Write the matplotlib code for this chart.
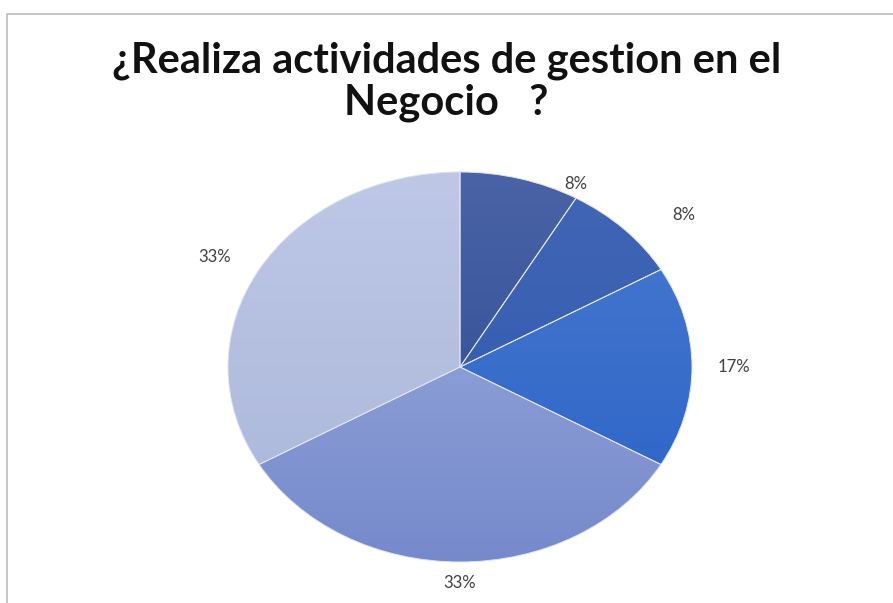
import numpy as np
import matplotlib
matplotlib.use("Agg")
import matplotlib.pyplot as plt
from matplotlib.colors import LinearSegmentedColormap
from matplotlib.lines import Line2D

title = "¿Realiza actividades de gestion en el\nNegocio   ?"
counts = [1, 1, 2, 4, 4]
# top / bottom shade of each wedge
top_colors = ["#4a63a6", "#4266b6", "#4a7ad0", "#9fb0e0", "#bec7e6"]
bottom_colors = ["#2a4992", "#2c58ad", "#2962c6", "#7689cb", "#a9b6da"]
# where each percent label sits: (angle in degrees, distance from centre)
label_spots = [(62, 1.06), (39, 1.24), (0, 1.18), (-90, 1.11), (152, 1.2)]

W, H = 893, 603
fig = plt.figure(figsize=(W / 100, H / 100), dpi=100)

# pie ellipse: centre (460, 367) px, radii 232 x 195 px
cx, cy, rx, ry = 460, 367, 232, 195
ax = fig.add_axes([(cx - rx) / W, (H - cy - ry) / H, 2 * rx / W, 2 * ry / H])

wedges, texts, autotexts = ax.pie(
    counts, startangle=90, counterclock=False, autopct="%1.0f%%",
    pctdistance=1.15, radius=1, center=(0, 0),
    wedgeprops=dict(edgecolor="#dfe4f2", linewidth=0.7),
    textprops=dict(fontsize=12, color="#404040", family="Lato"))
ax.set_aspect("auto")

grad = np.linspace(0, 1, 256).reshape(-1, 1)
for w, c_top, c_bot in zip(wedges, top_colors, bottom_colors):
    w.set_facecolor("none")
    cmap = LinearSegmentedColormap.from_list("g", [c_top, c_bot])
    im = ax.imshow(grad, cmap=cmap, extent=[-1, 1, -1, 1], origin="upper",
                   aspect="auto", interpolation="bicubic", zorder=0.5)
    im.set_clip_path(w)

for t, (ang, dist) in zip(autotexts, label_spots):
    a = np.deg2rad(ang)
    t.set_position((dist * np.cos(a), dist * np.sin(a)))
    t.set_ha("center")
    t.set_va("center")

ax.set_xlim(-1, 1)
ax.set_ylim(-1, 1)
ax.axis("off")

fig.text(0.5, 1 - 82 / H, title, ha="center", va="center", fontsize=30,
         fontweight="bold", family="Lato", linespacing=1.12, color="#111111")

# chart area border (top and left edges visible)
fig.add_artist(Line2D([7 / W, 7 / W, 1], [0, 1 - 14 / H, 1 - 14 / H],
                      transform=fig.transFigure, color="#bdbdbd", lw=1.2))

fig.savefig("out.png", dpi=100)
